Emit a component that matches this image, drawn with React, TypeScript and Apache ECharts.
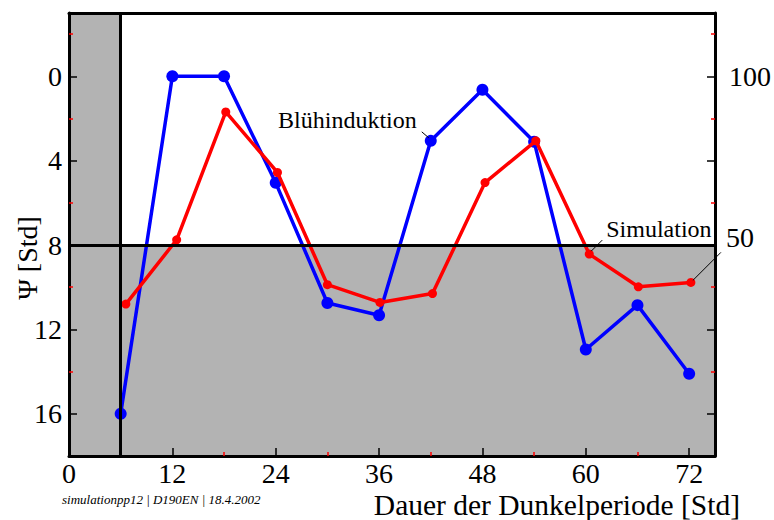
import React, { useEffect, useRef } from 'react';
import * as echarts from 'echarts';

const blueX = [6, 12, 18, 24, 30, 36, 42, 48, 54, 60, 66, 72];
const blueY = [16, 0, 0, 5.05, 10.75, 11.33, 3.06, 0.64, 3.1, 12.95, 10.85, 14.1];
const redX = [6.6, 12.5, 18.2, 24.2, 30, 36.1, 42.2, 48.3, 54.2, 60.4, 66.1, 72.2];
const redY = [10.8, 7.75, 1.69, 4.56, 9.88, 10.72, 10.3, 5.04, 3.06, 8.43, 9.98, 9.77];

const xMajorTicks = [0, 12, 24, 36, 48, 60, 72];
const xMinorTicks = [6, 18, 30, 42, 54, 66];
const yMajorTicks = [0, 4, 8, 12, 16];
const yMinorTicks = [-2, 2, 6, 10, 14];
const rightLabelValues = [0];
const rightLabelTexts = ['100'];

const darkPeriodStart = 6; // vertical line / shaded strip end
const psiThreshold = 8; // horizontal line / shaded area start

const xMin = 0, xMax = 75, yMin = -3, yMax = 18;

const FONT = 'Liberation Serif';

export default function App() {
  const ref = useRef<HTMLDivElement>(null);

  useEffect(() => {
    if (!ref.current) return;
    const chart = echarts.init(ref.current, undefined, { renderer: 'svg' });

    const tickLabel = { fontFamily: FONT, fontSize: 28, color: '#000' };
    const frameLine = { show: true, onZero: false, lineStyle: { color: '#000', width: 3 } };
    const noLine = { show: false, onZero: false };

    const baseX = { type: 'value', min: xMin, max: xMax, z: 1, splitLine: { show: false } };
    const baseY = { type: 'value', min: yMin, max: yMax, z: 1, inverse: true, splitLine: { show: false } };

    chart.setOption({
      animation: false,
      grid: { left: 69, right: 56, top: 13, bottom: 64 },
      xAxis: [
        {
          ...baseX, position: 'bottom',
          axisLine: frameLine,
          axisTick: { show: true, inside: true, length: 8, customValues: xMajorTicks, lineStyle: { color: '#000', width: 1.5 } },
          axisLabel: { show: true, customValues: xMajorTicks, margin: 3, ...tickLabel },
        },
        {
          ...baseX, position: 'bottom',
          axisLine: noLine,
          axisTick: { show: true, inside: true, length: 4, customValues: xMinorTicks, lineStyle: { color: '#ff0000', width: 1.5 } },
          axisLabel: { show: false },
        },
        {
          ...baseX, position: 'top',
          axisLine: frameLine,
          axisTick: { show: false },
          axisLabel: { show: false },
        },
      ],
      yAxis: [
        {
          ...baseY, position: 'left',
          axisLine: frameLine,
          axisTick: { show: true, inside: true, length: 8, customValues: yMajorTicks, lineStyle: { color: '#000', width: 1.5 } },
          axisLabel: { show: true, customValues: yMajorTicks, margin: 7, ...tickLabel },
        },
        {
          ...baseY, position: 'left',
          axisLine: noLine,
          axisTick: { show: true, inside: true, length: 4, customValues: yMinorTicks, lineStyle: { color: '#ff0000', width: 1.5 } },
          axisLabel: { show: false },
        },
        {
          ...baseY, position: 'right',
          axisLine: frameLine,
          axisTick: { show: true, inside: true, length: 8, customValues: yMajorTicks, lineStyle: { color: '#000', width: 1.5 } },
          axisLabel: {
            show: true, customValues: rightLabelValues, margin: 14, ...tickLabel,
            formatter: (v: number) => {
              const i = rightLabelValues.indexOf(v);
              return i >= 0 ? rightLabelTexts[i] : '';
            },
          },
        },
        {
          ...baseY, position: 'right',
          axisLine: noLine,
          axisTick: { show: true, inside: true, length: 4, customValues: yMinorTicks, lineStyle: { color: '#ff0000', width: 1.5 } },
          axisLabel: { show: false },
        },
      ],
      series: [
        {
          type: 'line', data: [], z: 0, silent: true,
          markArea: {
            silent: true,
            itemStyle: { color: '#b3b3b3', opacity: 1 },
            data: [
              [{ xAxis: xMin }, { xAxis: darkPeriodStart }],
              [{ yAxis: psiThreshold }, { yAxis: yMax }],
            ],
          },
        },
        {
          type: 'line', data: [], z: 2, silent: true,
          markLine: {
            silent: true, symbol: 'none',
            label: { show: false },
            lineStyle: { color: '#000', width: 3, type: 'solid' },
            data: [{ xAxis: darkPeriodStart }, { yAxis: psiThreshold }],
          },
        },
        {
          type: 'line', z: 3,
          data: blueX.map((x, i) => [x, blueY[i]]),
          symbol: 'circle', symbolSize: 12,
          lineStyle: { color: '#0000ff', width: 3.5 },
          itemStyle: { color: '#0000ff' },
        },
        {
          type: 'line', z: 4,
          data: redX.map((x, i) => [x, redY[i]]),
          symbol: 'circle', symbolSize: 9,
          lineStyle: { color: '#ff0000', width: 3.5 },
          itemStyle: { color: '#ff0000' },
        },
      ],
    });

    const px = (x: number, y: number) =>
      chart.convertToPixel({ xAxisIndex: 0, yAxisIndex: 0 }, [x, y]) as number[];

    const bIdx = 6; // Blühinduktion anchor (blue, 42 h)
    const sIdx = 9; // Simulation anchor (red, 60 h)
    const fIdx = 11; // "50" anchor (red, 72 h)
    const pb = px(blueX[bIdx], blueY[bIdx]);
    const ps = px(redX[sIdx], redY[sIdx]);
    const pf = px(redX[fIdx], redY[fIdx]);

    const thin = { stroke: '#000', lineWidth: 1 };

    chart.setOption({
      graphic: [
        { type: 'line', z: 10, shape: { x1: pb[0] - 2, y1: pb[1] - 3, x2: pb[0] - 9, y2: pb[1] - 9 }, style: thin },
        { type: 'text', z: 10, x: pb[0] - 14, y: pb[1] - 21, style: { text: 'Blühinduktion', font: `24px "${FONT}"`, fill: '#000', align: 'right', verticalAlign: 'middle' } },
        { type: 'line', z: 10, shape: { x1: ps[0] + 2, y1: ps[1] - 3, x2: ps[0] + 13, y2: ps[1] - 14 }, style: thin },
        { type: 'text', z: 10, x: ps[0] + 17, y: ps[1] - 25, style: { text: 'Simulation', font: `24px "${FONT}"`, fill: '#000', align: 'left', verticalAlign: 'middle' } },
        { type: 'line', z: 10, shape: { x1: pf[0] + 2, y1: pf[1] - 2, x2: pf[0] + 30, y2: pf[1] - 30 }, style: thin },
        { type: 'text', z: 10, x: pf[0] + 35, y: pf[1] - 45, style: { text: '50', font: `28px "${FONT}"`, fill: '#000', align: 'left', verticalAlign: 'middle' } },
        { type: 'text', z: 10, x: 27, y: 258, rotation: Math.PI / 2, style: { text: 'Ψ [Std]', font: `28px "${FONT}"`, fill: '#000', align: 'center', verticalAlign: 'middle' } },
        { type: 'text', z: 10, x: 740, y: 505, style: { text: 'Dauer der Dunkelperiode [Std]', font: `29.5px "${FONT}"`, fill: '#000', align: 'right', verticalAlign: 'middle' } },
        { type: 'text', z: 10, x: 62, y: 499, style: { text: 'simulationpp12 | D190EN | 18.4.2002', font: `italic 13px "${FONT}"`, fill: '#000', align: 'left', verticalAlign: 'middle' } },
      ],
    });

    return () => chart.dispose();
  }, []);

  return <div ref={ref} style={{ position: 'absolute', left: 0, top: 0, width: 774, height: 520 }} />;
}
